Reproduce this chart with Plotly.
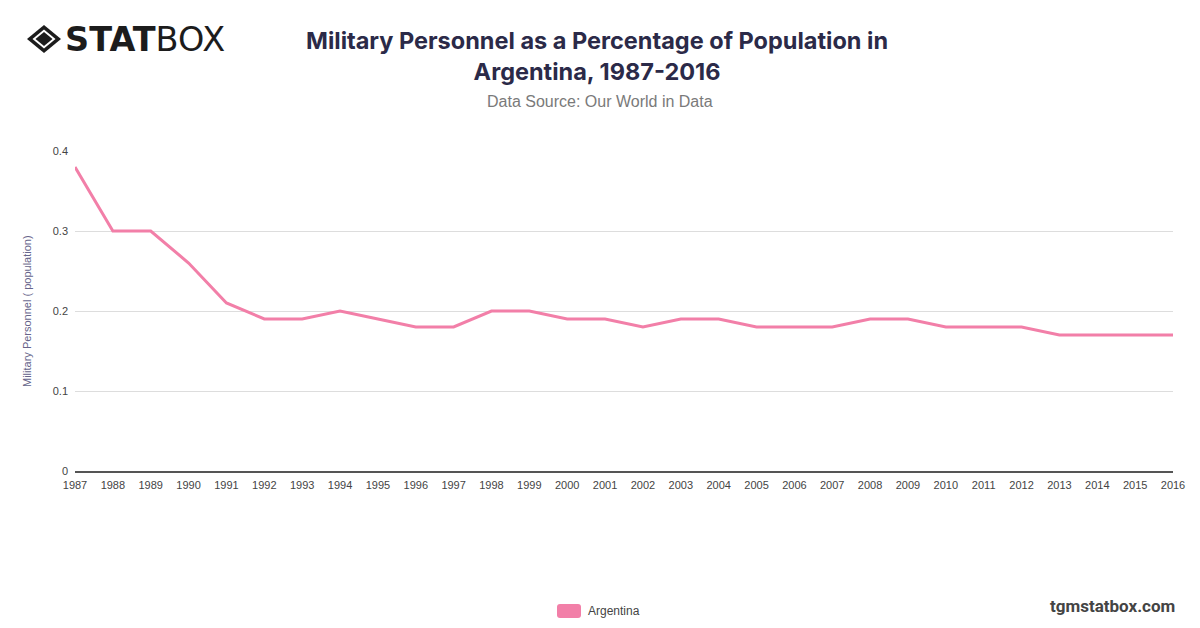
import plotly.graph_objects as go

# Data
years = list(range(1987, 2017))
argentina = [0.38, 0.30, 0.30, 0.26, 0.21, 0.19, 0.19, 0.20, 0.19, 0.18,
             0.18, 0.20, 0.20, 0.19, 0.19, 0.18, 0.19, 0.19, 0.18, 0.18,
             0.18, 0.19, 0.19, 0.18, 0.18, 0.18, 0.17, 0.17, 0.17, 0.17]
y_ticks = [0, 0.1, 0.2, 0.3, 0.4]
y_tick_text = ['0', '0.1', '0.2', '0.3', '0.4']

LINE_COLOR = '#f27fa8'
SANS = 'Liberation Sans, Arial, Helvetica, sans-serif'
W, H = 1200, 628
L, R, T, B = 75, 27, 151, 157
PW, PH = W - L - R, H - T - B


def px(x):
    # pixel -> paper x
    return (x - L) / PW


def py(y):
    # pixel -> paper y
    return (H - B - y) / PH


def diamond(cx, cy, hw, hh):
    return (f'M {px(cx - hw)} {py(cy)} L {px(cx)} {py(cy - hh)} '
            f'L {px(cx + hw)} {py(cy)} L {px(cx)} {py(cy + hh)} Z')


def rounded_rect(x0, y0, x1, y1, r):
    rx, ry = r / PW, r / PH
    a, b = px(x0), px(x1)
    top, bot = py(y0), py(y1)
    return (f'M {a + rx} {top} L {b - rx} {top} Q {b} {top} {b} {top - ry} '
            f'L {b} {bot + ry} Q {b} {bot} {b - rx} {bot} '
            f'L {a + rx} {bot} Q {a} {bot} {a} {bot + ry} '
            f'L {a} {top - ry} Q {a} {top} {a + rx} {top} Z')


fig = go.Figure()

fig.add_trace(go.Scatter(
    x=years,
    y=argentina,
    name='Argentina',
    mode='lines',
    line=dict(color=LINE_COLOR, width=3),
    showlegend=False,
    hovertemplate='%{x}: %{y}<extra></extra>'
))

fig.update_layout(
    width=W,
    height=H,
    margin=dict(l=L, r=R, t=T, b=B),
    paper_bgcolor='white',
    plot_bgcolor='white',
    font=dict(family=SANS, color='#444444'),
)

fig.update_xaxes(
    range=[1987, 2016],
    tickmode='array',
    tickvals=years,
    ticktext=[str(y) for y in years],
    tickangle=0,
    tickfont=dict(size=11, color='#444444'),
    showgrid=False,
    showline=True,
    linecolor='#555555',
    linewidth=1.5,
    ticks='',
    ticklabelstandoff=3,
    zeroline=False,
    fixedrange=True,
)

fig.update_yaxes(
    range=[0, 0.4],
    tickmode='array',
    tickvals=y_ticks,
    ticktext=y_tick_text,
    tickfont=dict(size=11, color='#444444'),
    showgrid=True,
    gridcolor='#dddddd',
    gridwidth=1,
    zeroline=False,
    ticks='',
    ticklabelstandoff=6,
    fixedrange=True,
)

# Title (two lines)
fig.add_annotation(
    text='<b>Military Personnel as a Percentage of Population in<br>Argentina, 1987-2016</b>',
    xref='paper', yref='paper',
    x=px(597), y=py(56),
    xanchor='center', yanchor='middle',
    showarrow=False,
    font=dict(family='Inter, Roboto, sans-serif', size=23.5, color='#2b2a48'),
)

# Subtitle
fig.add_annotation(
    text='Data Source: Our World in Data',
    xref='paper', yref='paper',
    x=px(600), y=py(101),
    xanchor='center', yanchor='middle',
    showarrow=False,
    font=dict(family=SANS, size=16, color='#7a7a7a'),
)

# Y axis title
fig.add_annotation(
    text='Military Personnel ( population)',
    xref='paper', yref='paper',
    x=px(27), y=0.5,
    xanchor='center', yanchor='middle',
    textangle=-90,
    showarrow=False,
    font=dict(family=SANS, size=11, color='#66648a'),
)

# Logo: diamond icon + wordmark
fig.add_shape(type='path', xref='paper', yref='paper',
              path=diamond(44, 39, 17, 14), fillcolor='#1c1c1c', line=dict(width=0))
fig.add_shape(type='path', xref='paper', yref='paper',
              path=diamond(44, 39, 11.5, 9.5), fillcolor='white', line=dict(width=0))
fig.add_shape(type='path', xref='paper', yref='paper',
              path=diamond(44, 39, 8.5, 7), fillcolor='#1c1c1c', line=dict(width=0))
fig.add_annotation(
    text='<b>STAT</b>BOX',
    xref='paper', yref='paper',
    x=px(63), y=py(40),
    xanchor='left', yanchor='middle',
    showarrow=False,
    font=dict(family='DejaVu Sans, sans-serif', size=33.5, color='#1c1c1c'),
)

# Watermark
fig.add_annotation(
    text='<b>tgmstatbox.com</b>',
    xref='paper', yref='paper',
    x=px(1177), y=py(606),
    xanchor='right', yanchor='middle',
    showarrow=False,
    font=dict(family='Roboto, sans-serif', size=17, color='#444444'),
)

# Legend (rounded swatch + label)
fig.add_shape(
    type='path', xref='paper', yref='paper',
    path=rounded_rect(557, 604, 581, 618, 3),
    fillcolor=LINE_COLOR,
    line=dict(width=0),
)
fig.add_annotation(
    text='Argentina',
    xref='paper', yref='paper',
    x=px(586), y=py(611),
    xanchor='left', yanchor='middle',
    showarrow=False,
    font=dict(family=SANS, size=12, color='#444444'),
)

fig.write_html('out.html', config={'displayModeBar': False},
               post_script="document.body.style.margin='0';")
